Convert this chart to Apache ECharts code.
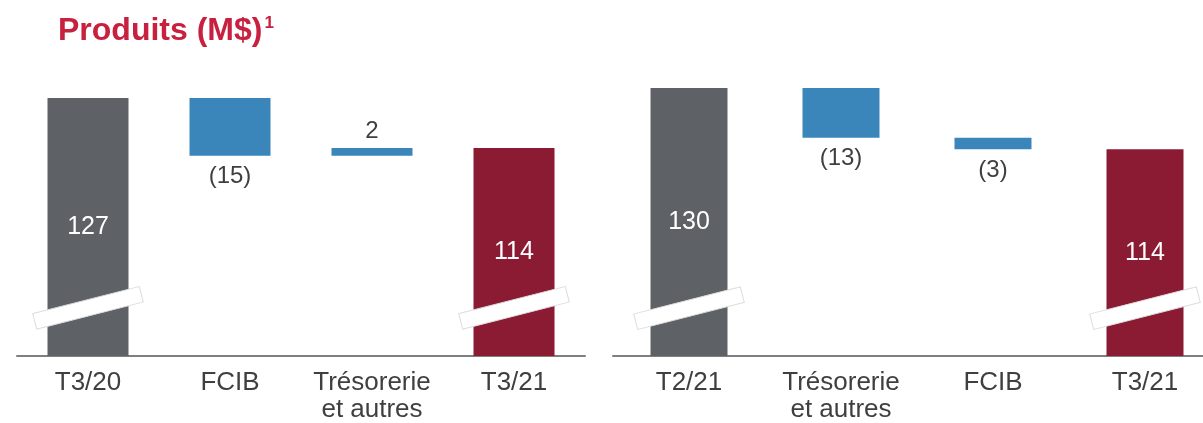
<!DOCTYPE html>
<html>
<head>
<meta charset="utf-8">
<title>Produits (M$)</title>
<script src="https://cdn.jsdelivr.net/npm/echarts@6/dist/echarts.min.js"></script>
<style>
  html, body { margin: 0; padding: 0; background: #ffffff; overflow: hidden; }
  /* le dernier panneau déborde à droite, comme sur la diapo */
  #chart { width: 1221px; height: 423px; }
</style>
</head>
<body>
<div id="chart"></div>
<script>
// données du graphique (M$)
const leftCategories = ['T3/20', 'FCIB', 'Trésorerie\net autres', 'T3/21']
const leftValues = [127, -15, 2, 114]
const leftKinds = ['start', 'delta', 'delta', 'end']

const rightCategories = ['T2/21', 'Trésorerie\net autres', 'FCIB', 'T3/21']
const rightValues = [130, -13, -3, 114]
const rightKinds = ['start', 'delta', 'delta', 'end']

const COLORS = {
  start: '#5e6266',
  delta: '#3a86bb',
  end: '#8b1a33',
  text: '#3f3f3f',
  axis: '#7f7f7f',
  title: '#c8203f'
}

// axe coupé : valeur où passe la bande blanche
const breakValue = 72.5

const chart = echarts.init(document.getElementById('chart'))

// base transparente + hauteur visible pour une cascade
function buildWaterfall(values, kinds) {
  const base = []
  const bars = []
  let running = 0
  values.forEach((v, i) => {
    const kind = kinds[i]
    if (kind === 'start' || kind === 'end') {
      running = v
      base.push(0)
      bars.push({
        value: v,
        itemStyle: { color: COLORS[kind] },
        label: {
          position: 'inside',
          color: '#ffffff',
          fontSize: 25,
          formatter: String(v)
        }
      })
    } else {
      const next = running + v
      base.push(Math.min(running, next))
      bars.push({
        value: Math.abs(v),
        itemStyle: { color: COLORS.delta },
        label: {
          position: v < 0 ? 'bottom' : 'top',
          distance: v < 0 ? 9 : 5,
          color: COLORS.text,
          fontSize: 24,
          formatter: v < 0 ? '(' + Math.abs(v) + ')' : String(v)
        }
      })
      running = next
    }
  })
  return { base, bars }
}

const left = buildWaterfall(leftValues, leftKinds)
const right = buildWaterfall(rightValues, rightKinds)

const fontFamily = 'Liberation Sans, Arial, sans-serif'

function xAxisFor(gridIndex, data) {
  return {
    type: 'category',
    gridIndex: gridIndex,
    data: data,
    axisTick: { show: false },
    axisLine: { lineStyle: { color: COLORS.axis, width: 2 } },
    axisLabel: {
      interval: 0,
      margin: 13,
      fontSize: 26,
      lineHeight: 27,
      color: COLORS.text,
      fontFamily: fontFamily
    }
  }
}

function yAxisFor(gridIndex, min, max) {
  return {
    type: 'value',
    gridIndex: gridIndex,
    min: min,
    max: max,
    show: false,
    splitLine: { show: false }
  }
}

function seriesFor(index, data, barWidth) {
  return [
    {
      type: 'bar',
      xAxisIndex: index,
      yAxisIndex: index,
      stack: 'wf' + index,
      barWidth: barWidth,
      silent: true,
      itemStyle: { color: 'transparent' },
      data: data.base
    },
    {
      type: 'bar',
      xAxisIndex: index,
      yAxisIndex: index,
      stack: 'wf' + index,
      barWidth: barWidth,
      label: { show: true, fontFamily: fontFamily },
      data: data.bars
    }
  ]
}

const option = {
  animation: false,
  textStyle: { fontFamily: fontFamily },
  title: {
    left: 53,
    top: 10,
    text: '{a|Produits (M$)}{s|1}',
    textStyle: {
      rich: {
        a: { fontSize: 32, fontWeight: 'bold', color: COLORS.title, fontFamily: fontFamily },
        s: { fontSize: 17, fontWeight: 'bold', color: COLORS.title, fontFamily: fontFamily, verticalAlign: 'top', padding: [0, 0, 12, 2] }
      }
    }
  },
  grid: [
    { left: 17, width: 568, top: 98, bottom: 64 },
    { left: 613, width: 608, top: 88, bottom: 62 }
  ],
  xAxis: [xAxisFor(0, leftCategories), xAxisFor(1, rightCategories)],
  yAxis: [yAxisFor(0, 60, 127), yAxisFor(1, 60, 130)],
  series: [].concat(seriesFor(0, left, 81), seriesFor(1, right, 77))
}

chart.setOption(option)

// bandes blanches inclinées (axe coupé) sur les barres de total
function breakBands() {
  const items = []
  const panels = [
    { kinds: leftKinds, index: 0 },
    { kinds: rightKinds, index: 1 }
  ]
  panels.forEach(p => {
    p.kinds.forEach((kind, i) => {
      if (kind === 'delta') return
      const pt = chart.convertToPixel({ xAxisIndex: p.index, yAxisIndex: p.index }, [i, breakValue])
      items.push({
        type: 'rect',
        x: pt[0],
        y: pt[1],
        rotation: 0.25,
        shape: { x: -55, y: -8, width: 110, height: 16 },
        style: { fill: '#ffffff', stroke: '#dcdcdc', lineWidth: 1 },
        z: 100
      })
    })
  })
  return items
}

chart.setOption({ graphic: breakBands() })
</script>
</body>
</html>
